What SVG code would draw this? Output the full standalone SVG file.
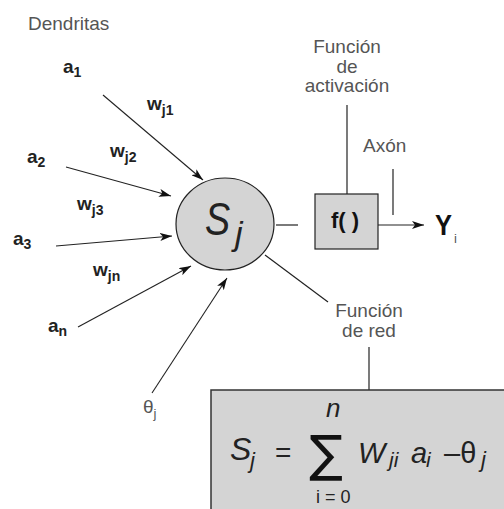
<svg xmlns="http://www.w3.org/2000/svg" width="504" height="509" viewBox="0 0 504 509">
<defs>
<marker id="ah" viewBox="0 0 12 8" refX="12" refY="4" markerWidth="12" markerHeight="8" markerUnits="userSpaceOnUse" orient="auto">
<path d="M0,0 L12,4 L0,8 L3,4 Z" fill="#111"/>
</marker>
<style>
.lbl{font-family:"Liberation Sans",Arial,sans-serif;font-size:19px;fill:#555}
.in{font-family:"Liberation Sans",Arial,sans-serif;font-size:19px;font-weight:bold;fill:#222}
.sub{font-size:14px}
.ln{stroke:#222;stroke-width:1.2;fill:none}
.ar{stroke:#222;stroke-width:1.1;fill:none;marker-end:url(#ah)}
.math{font-family:"Liberation Sans",Arial,sans-serif;font-style:italic;fill:#222}
.up{font-family:"Liberation Sans",Arial,sans-serif;fill:#222}
</style>
</defs>
<rect width="504" height="509" fill="#fff"/>

<g id="labels">
<text class="lbl" x="28" y="30">Dendritas</text>
<text class="in" x="63" y="73">a<tspan class="sub" dy="4">1</tspan></text>
<text class="in" x="27" y="163">a<tspan class="sub" dy="4">2</tspan></text>
<text class="in" x="13" y="245">a<tspan class="sub" dy="4">3</tspan></text>
<text class="in" x="48" y="332">a<tspan class="sub" dy="4">n</tspan></text>
<text class="in" x="147" y="110">w<tspan class="sub" dy="5">j1</tspan></text>
<text class="in" x="110" y="157">w<tspan class="sub" dy="5">j2</tspan></text>
<text class="in" x="77" y="210">w<tspan class="sub" dy="5">j3</tspan></text>
<text class="in" x="93" y="276">w<tspan class="sub" dy="5">jn</tspan></text>
<text class="lbl" x="143" y="413" font-size="17">θ<tspan font-size="13" dy="5">j</tspan></text>
<text class="lbl" x="347" y="53" text-anchor="middle">Función</text>
<text class="lbl" x="347" y="73" text-anchor="middle">de</text>
<text class="lbl" x="347" y="92" text-anchor="middle">activación</text>
<text class="lbl" x="363" y="152">Axón</text>
<text class="lbl" x="369" y="317" text-anchor="middle">Función</text>
<text class="lbl" x="369" y="337" text-anchor="middle">de red</text>
</g>

<g id="connectors">
<line class="ar" x1="103" y1="95" x2="203" y2="180"/>
<line class="ar" x1="66" y1="167" x2="171" y2="196"/>
<line class="ar" x1="56" y1="246" x2="172" y2="236"/>
<line class="ar" x1="78" y1="327" x2="191" y2="266"/>
<line class="ar" x1="152" y1="393" x2="227" y2="278"/>
<line class="ln" x1="276" y1="225" x2="298" y2="225"/>
<line class="ln" x1="347" y1="105" x2="347" y2="194"/>
<line class="ln" x1="393" y1="169" x2="393" y2="215"/>
<line class="ar" x1="378" y1="225" x2="424" y2="225"/>
<line class="ln" x1="265" y1="255" x2="328" y2="302"/>
<line class="ln" x1="369" y1="347" x2="369" y2="390"/>
</g>

<g id="neuron">
<ellipse cx="225" cy="224" rx="49" ry="46" fill="#d4d4d4" stroke="#222" stroke-width="1.2"/>
<text class="math" font-size="46" transform="translate(205,235) scale(0.82,1)">S</text>
<text class="math" x="235" y="245" font-size="34">j</text>
</g>

<g id="activation">
<rect x="315" y="194" width="63" height="55" fill="#d4d4d4" stroke="#222" stroke-width="1.2"/>
<text x="345" y="228" text-anchor="middle" font-family="Liberation Sans,Arial,sans-serif" font-weight="bold" font-size="22" fill="#111">f( )</text>
</g>

<g id="output">
<text font-family="Liberation Sans,Arial,sans-serif" font-weight="bold" font-size="30" fill="#111" transform="translate(435,235) scale(0.85,1)">Y</text>
<text x="454" y="243" font-family="Liberation Sans,Arial,sans-serif" font-size="13" fill="#555">i</text>
</g>

<g id="formula">
<rect x="211" y="390" width="300" height="130" fill="#d4d4d4" stroke="#333" stroke-width="1.5"/>
<text class="math" x="230" y="460" font-size="32">S</text>
<text class="math" x="250" y="468" font-size="22">j</text>
<text class="up" x="275" y="462" font-size="28">=</text>
<text x="309" y="471" font-family="DejaVu Sans,sans-serif" font-size="50" fill="#111">∑</text>
<text class="math" x="326" y="417" font-size="26">n</text>
<text class="up" x="316" y="503" font-size="18">i = 0</text>
<text class="math" x="358" y="463" font-size="29">W</text>
<text class="math" x="389" y="467" font-size="21">ji</text>
<text class="math" x="411" y="463" font-size="29">a</text>
<text class="math" x="426" y="467" font-size="21">i</text>
<text class="up" x="444" y="463" font-size="29">–θ</text>
<text class="math" x="481" y="467" font-size="22">j</text>
</g>
</svg>
